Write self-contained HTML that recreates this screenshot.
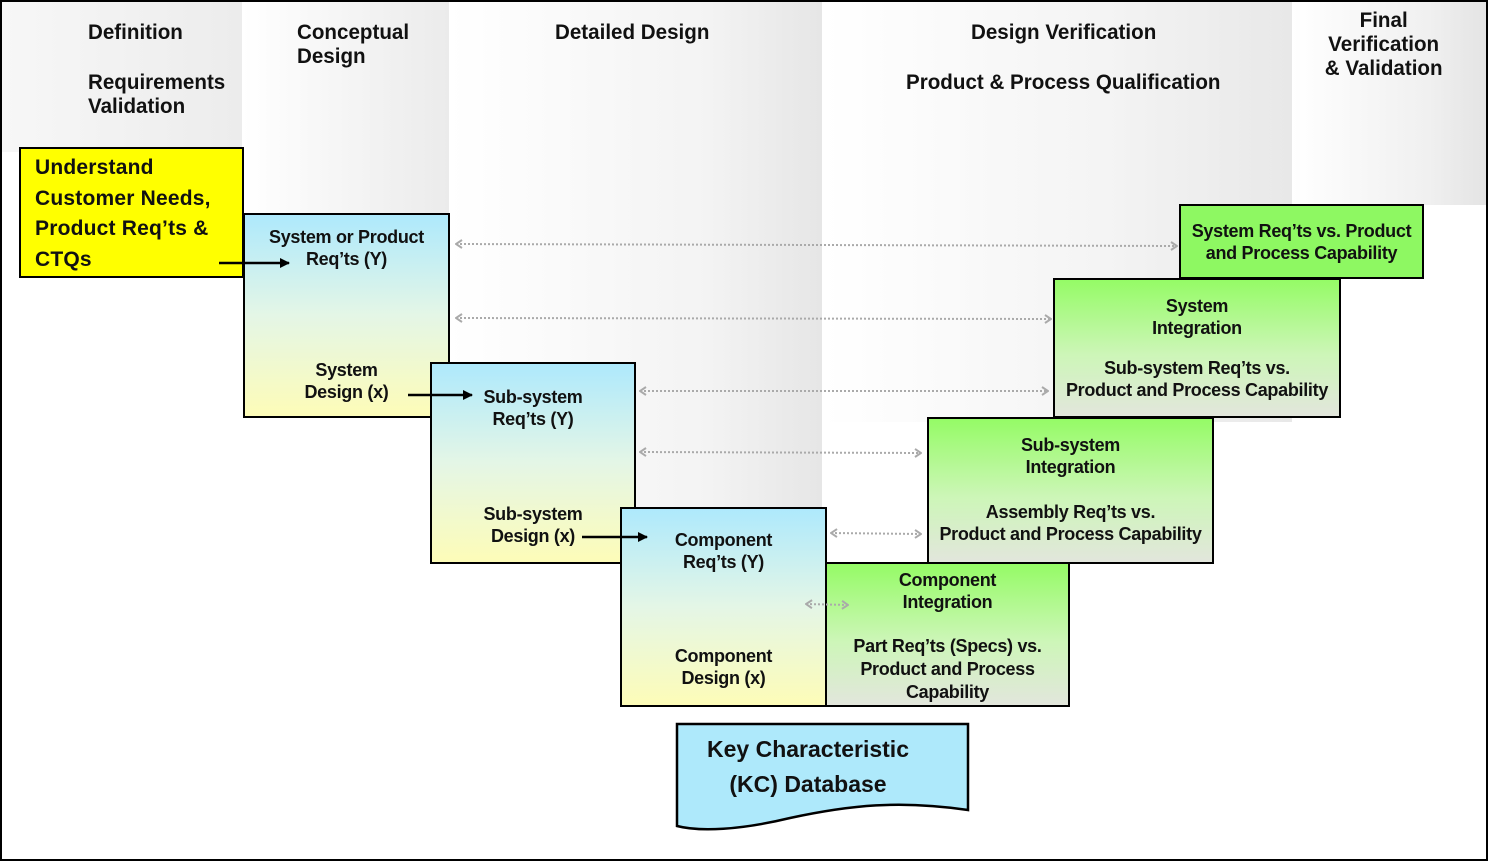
<!DOCTYPE html>
<html><head><meta charset="utf-8"><style>
body{margin:0;width:1488px;height:861px;position:relative;background:#fff;overflow:hidden;font-family:"Liberation Sans",sans-serif}
.a{position:absolute;box-sizing:border-box}
.col{position:absolute}
.h{position:absolute;font-size:21px;font-weight:bold;color:#111;line-height:24px;transform:scaleX(0.98);transform-origin:left top;white-space:nowrap}
.b{position:absolute;box-sizing:border-box;border:2.5px solid #000;font-weight:bold;color:#111;font-size:18px;line-height:22px;text-align:center;letter-spacing:-0.3px;white-space:nowrap}
.bl{background:linear-gradient(#aee9fc,#e4f6e6 50%,#fdfcb8)}
.gr{background:linear-gradient(#95fb66,#cdf6b8 55%,#e2e6dc)}
</style></head><body>
<div class="col" style="left:2px;top:2px;width:240px;height:150px;background:linear-gradient(to right,#f7f7f7,#ececec)"></div>
<div class="col" style="left:242px;top:2px;width:207px;height:340px;background:linear-gradient(to right,#fff,#ebebeb)"></div>
<div class="col" style="left:449px;top:2px;width:373px;height:505px;background:linear-gradient(to right,#fff,#f3f3f3 70%,#e6e6e6)"></div>
<div class="col" style="left:822px;top:2px;width:470px;height:420px;background:linear-gradient(to right,#fff,#f4f4f4 60%,#e8e8e8)"></div>
<div class="col" style="left:1292px;top:2px;width:194px;height:203px;background:linear-gradient(to right,#fff,#f0f0f0 70%,#e4e4e4)"></div>

<div class="h" style="left:88px;top:21px">Definition</div>
<div class="h" style="left:88px;top:71px">Requirements<br>Validation</div>
<div class="h" style="left:297px;top:21px">Conceptual<br>Design</div>
<div class="h" style="left:555px;top:21px">Detailed Design</div>
<div class="h" style="left:971px;top:21px">Design Verification</div>
<div class="h" style="left:906px;top:71px">Product &amp; Process Qualification</div>
<div class="h" style="left:1318px;top:9px;text-align:center;width:134px">Final<br>Verification<br>&amp; Validation</div>

<div class="b" style="left:19px;top:147px;width:225px;height:131px;background:#ffff00;text-align:left;padding:4px 0 0 14px;font-size:21px;letter-spacing:0.2px;line-height:30.5px">Understand<br>Customer Needs,<br>Product Req’ts &amp;<br>CTQs</div>
<div class="b bl" style="left:243px;top:213px;width:207px;height:205px;padding-top:11px">System or Product<br>Req’ts (Y)<div style="position:absolute;left:0;right:0;top:144px">System<br>Design (x)</div></div>
<div class="b bl" style="left:430px;top:362px;width:206px;height:202px;padding-top:22px">Sub-system<br>Req’ts (Y)<div style="position:absolute;left:0;right:0;top:139px">Sub-system<br>Design (x)</div></div>
<div class="b bl" style="left:620px;top:507px;width:207px;height:200px;padding-top:20px">Component<br>Req’ts (Y)<div style="position:absolute;left:0;right:0;top:136px">Component<br>Design (x)</div></div>

<div class="b" style="left:1179px;top:204px;width:245px;height:75px;background:#8ef862;padding-top:14px">System Req’ts vs. Product<br>and Process Capability</div>
<div class="b gr" style="left:1053px;top:278px;width:288px;height:140px;padding-top:15px">System<br>Integration<div style="position:absolute;left:0;right:0;top:77px">Sub-system Req’ts vs.<br>Product and Process Capability</div></div>
<div class="b gr" style="left:927px;top:417px;width:287px;height:147px;padding-top:15px">Sub-system<br>Integration<div style="position:absolute;left:0;right:0;top:82px">Assembly Req’ts vs.<br>Product and Process Capability</div></div>
<div class="b gr" style="left:825px;top:562px;width:245px;height:145px;padding-top:5px">Component<br>Integration<div style="position:absolute;left:0;right:0;top:71px;line-height:23px">Part Req’ts (Specs) vs.<br>Product and Process<br>Capability</div></div>

<svg class="a" style="left:0;top:0" width="1488" height="861">
<defs>
<marker id="g" markerWidth="8" markerHeight="10" refX="7" refY="5" orient="auto-start-reverse" markerUnits="userSpaceOnUse"><path d="M1,1 L7,5 L1,9" fill="none" stroke="#aaa" stroke-width="2"/></marker>
<marker id="k" markerWidth="10" markerHeight="10" refX="9" refY="5" orient="auto" markerUnits="userSpaceOnUse"><path d="M0,0 L10,5 L0,10 z" fill="#000"/></marker>
</defs>
<g stroke="#aaa" stroke-width="2" stroke-dasharray="2 2" fill="none" marker-start="url(#g)" marker-end="url(#g)">
<line x1="456" y1="244" x2="1177" y2="246"/>
<line x1="456" y1="318" x2="1051" y2="319"/>
<line x1="640" y1="391" x2="1048" y2="391"/>
<line x1="640" y1="452" x2="921" y2="453"/>
<line x1="831" y1="533" x2="921" y2="534"/>
<line x1="806" y1="604" x2="848" y2="605"/>
</g>
<g stroke="#000" stroke-width="2.5" marker-end="url(#k)">
<line x1="219" y1="263" x2="289" y2="263"/>
<line x1="408" y1="395" x2="472" y2="395"/>
<line x1="582" y1="537" x2="647" y2="537"/>
</g>
<path d="M677,724 L968,724 L968,810 C900,800 850,805 790,818 C740,830 700,832 677,826 Z" fill="#aee9fb" stroke="#000" stroke-width="2.5"/>
<text x="808" y="757" text-anchor="middle" font-family="Liberation Sans" font-weight="bold" font-size="23" fill="#111">Key Characteristic</text>
<text x="808" y="792" text-anchor="middle" font-family="Liberation Sans" font-weight="bold" font-size="23" fill="#111">(KC) Database</text>
<rect x="1" y="1" width="1486" height="859" fill="none" stroke="#000" stroke-width="2"/>
</svg>
</body></html>
